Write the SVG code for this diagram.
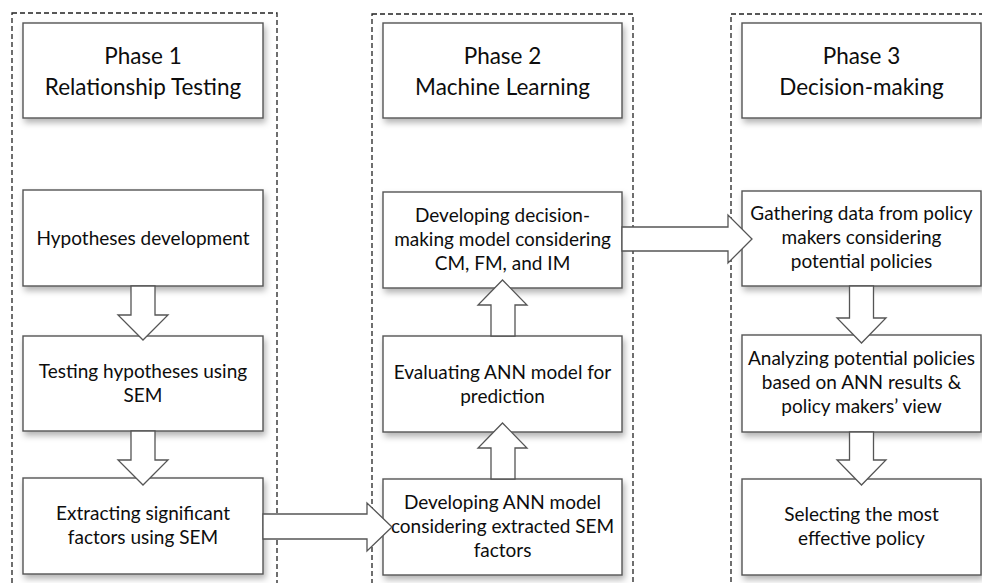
<svg xmlns="http://www.w3.org/2000/svg" width="982" height="583" viewBox="0 0 982 583">
  <defs>
    <filter id="shadow" x="-10%" y="-10%" width="130%" height="140%">
      <feDropShadow dx="2" dy="4" stdDeviation="3" flood-color="#000" flood-opacity="0.3"/>
    </filter>
    <style>
      .phase { fill: none; stroke: #222; stroke-width: 1.3; stroke-dasharray: 5 3; }
      .box { fill: #fff; stroke: #555; stroke-width: 1.4; filter: url(#shadow); }
      .arrow { fill: #fff; stroke: #555; stroke-width: 1.3; stroke-linejoin: miter; }
      text { font-family: Lato, "Open Sans", "Liberation Sans", sans-serif; fill: #0d0d0d; text-anchor: middle; }
      .head { font-size: 22.5px; }
      .body { font-size: 19px; }
    </style>
  </defs>
  <rect width="982" height="583" fill="#fff"/>

  <!-- phase containers -->
  <g id="containers">
    <rect class="phase" x="12" y="13" width="265" height="620"/>
    <rect class="phase" x="372" y="14" width="261" height="620"/>
    <rect class="phase" x="731" y="14" width="300" height="620"/>
  </g>

  <!-- Phase 1 -->
  <g id="phase1-title">
    <rect class="box" x="23" y="23" width="240" height="95"/>
    <text class="head" x="143" y="64">Phase 1</text>
    <text class="head" x="143" y="95">Relationship Testing</text>
  </g>
  <g id="hypotheses-development">
    <rect class="box" x="23" y="190" width="240" height="96"/>
    <text class="body" x="143" y="245">Hypotheses development</text>
  </g>
  <g id="testing-hypotheses">
    <rect class="box" x="23" y="336" width="240" height="95"/>
    <text class="body" x="143" y="378">Testing hypotheses using</text>
    <text class="body" x="143" y="402">SEM</text>
  </g>
  <g id="extracting-factors">
    <rect class="box" x="23" y="478" width="240" height="96"/>
    <text class="body" x="143" y="520">Extracting significant</text>
    <text class="body" x="143" y="544">factors using SEM</text>
  </g>

  <!-- Phase 2 -->
  <g id="phase2-title">
    <rect class="box" x="383" y="23" width="239" height="95"/>
    <text class="head" x="502.5" y="64">Phase 2</text>
    <text class="head" x="502.5" y="95">Machine Learning</text>
  </g>
  <g id="decision-model">
    <rect class="box" x="383" y="192" width="239" height="96"/>
    <text class="body" x="502.5" y="222">Developing decision-</text>
    <text class="body" x="502.5" y="246">making model considering</text>
    <text class="body" x="502.5" y="270">CM, FM, and IM</text>
  </g>
  <g id="evaluating-ann">
    <rect class="box" x="383" y="336" width="239" height="96"/>
    <text class="body" x="502.5" y="379">Evaluating ANN model for</text>
    <text class="body" x="502.5" y="403">prediction</text>
  </g>
  <g id="developing-ann">
    <rect class="box" x="383" y="479" width="239" height="96"/>
    <text class="body" x="502.5" y="509">Developing ANN model</text>
    <text class="body" x="502.5" y="533">considering extracted SEM</text>
    <text class="body" x="502.5" y="557">factors</text>
  </g>

  <!-- Phase 3 -->
  <g id="phase3-title">
    <rect class="box" x="742" y="23" width="239" height="95"/>
    <text class="head" x="861.5" y="64">Phase 3</text>
    <text class="head" x="861.5" y="95">Decision-making</text>
  </g>
  <g id="gathering-data">
    <rect class="box" x="742" y="191" width="239" height="95"/>
    <text class="body" x="861.5" y="220">Gathering data from policy</text>
    <text class="body" x="861.5" y="244">makers considering</text>
    <text class="body" x="861.5" y="268">potential policies</text>
  </g>
  <g id="analyzing-policies">
    <rect class="box" x="742" y="335" width="239" height="97"/>
    <text class="body" x="861.5" y="365">Analyzing potential policies</text>
    <text class="body" x="861.5" y="389">based on ANN results &amp;</text>
    <text class="body" x="861.5" y="413">policy makers’ view</text>
  </g>
  <g id="selecting-policy">
    <rect class="box" x="742" y="479" width="239" height="96"/>
    <text class="body" x="861.5" y="521">Selecting the most</text>
    <text class="body" x="861.5" y="545">effective policy</text>
  </g>

  <!-- block arrows between steps -->
  <g id="connectors">
    <!-- Phase 1, downward -->
    <polygon class="arrow" points="131,286 155,286 155,315 168,315 143,340 118,315 131,315"/>
    <polygon class="arrow" points="131,431 155,431 155,460 168,460 143,485 118,460 131,460"/>
    <!-- Phase 1 to Phase 2 -->
    <polygon class="arrow" points="263,514 367,514 367,503 392,527 367,551 367,539 263,539"/>
    <!-- Phase 2, upward -->
    <polygon class="arrow" points="491,479 515,479 515,448 527,448 502.5,423 478,448 491,448"/>
    <polygon class="arrow" points="491,336 515,336 515,305 527,305 502.5,280 478,305 491,305"/>
    <!-- Phase 2 to Phase 3 -->
    <polygon class="arrow" points="622,227 728,227 728,215 752,239 728,263 728,251 622,251"/>
    <!-- Phase 3, downward -->
    <polygon class="arrow" points="849.5,286 873.5,286 873.5,318 886,318 861.5,343 837,318 849.5,318"/>
    <polygon class="arrow" points="849.5,432 873.5,432 873.5,460 886,460 861.5,485 837,460 849.5,460"/>
  </g>
</svg>
